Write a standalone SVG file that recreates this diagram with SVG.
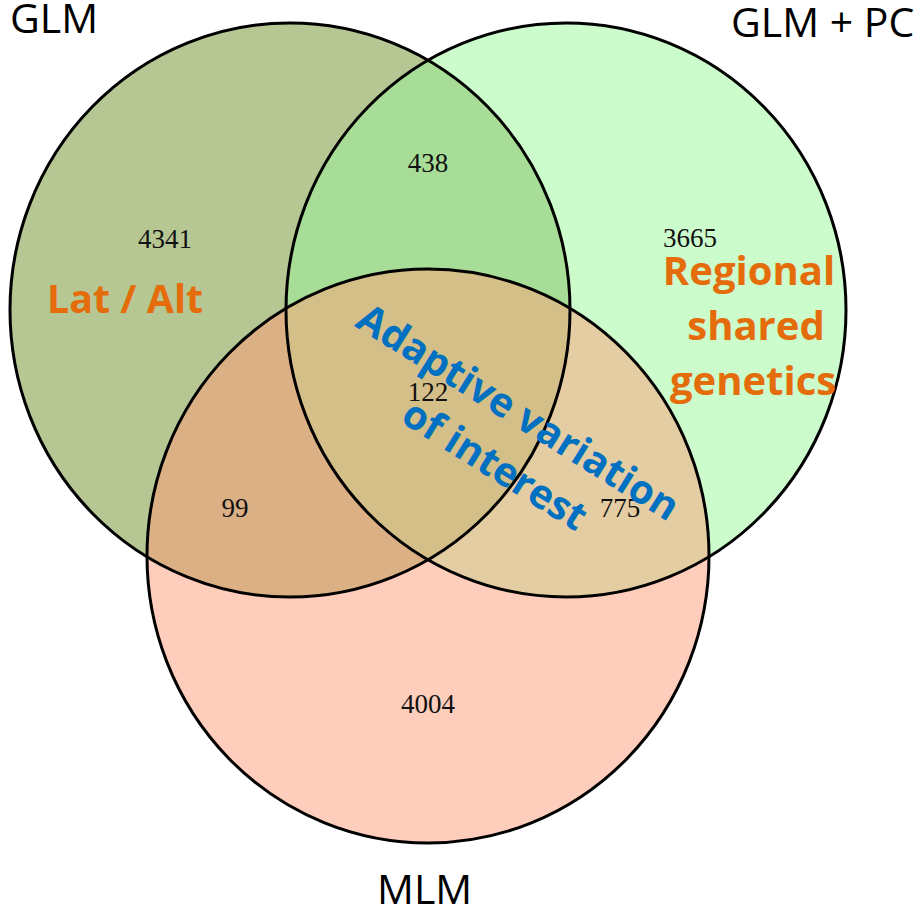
<svg xmlns="http://www.w3.org/2000/svg" width="922" height="907" viewBox="0 0 922 907">
<style>
.title{font-family:"Open Sans","Liberation Sans",sans-serif;font-size:41px;fill:#000}
.num{font-family:"Liberation Serif","Times New Roman",serif;font-size:27px;fill:#111;text-anchor:middle}
.note{font-family:"Open Sans","Liberation Sans",sans-serif;font-weight:bold;font-size:40px;fill:#E46C0A}
.blue{font-family:"Open Sans","Liberation Sans",sans-serif;font-weight:bold;font-size:40px;fill:#0070C0;text-anchor:middle}
.edge{fill:none;stroke:#000;stroke-width:3}
</style>
<defs>
<clipPath id="cGLM"><ellipse cx="290" cy="310" rx="280" ry="287"/></clipPath>
<clipPath id="cPC"><ellipse cx="566" cy="310" rx="280" ry="287"/></clipPath>
</defs>
<rect width="922" height="907" fill="#fff"/>
<g id="regions">
<ellipse cx="290" cy="310" rx="280" ry="287" fill="#b6c794"/>
<ellipse cx="566" cy="310" rx="280" ry="287" fill="#ccfbcc"/>
<ellipse cx="428" cy="556" rx="281" ry="287" fill="#fecdbb"/>
<ellipse cx="566" cy="310" rx="280" ry="287" fill="#a7dd97" clip-path="url(#cGLM)"/>
<ellipse cx="428" cy="556" rx="281" ry="287" fill="#dbb085" clip-path="url(#cGLM)"/>
<ellipse cx="428" cy="556" rx="281" ry="287" fill="#e5cda3" clip-path="url(#cPC)"/>
<g clip-path="url(#cGLM)"><ellipse cx="428" cy="556" rx="281" ry="287" fill="#d4bf88" clip-path="url(#cPC)"/></g>
</g>
<g id="set-glm">
<ellipse class="edge" cx="290" cy="310" rx="280" ry="287"/>
<text class="title" x="10" y="33">GLM</text>
<text class="num" x="165" y="248">4341</text>
<text class="note" x="47" y="313" textLength="156" lengthAdjust="spacingAndGlyphs">Lat / Alt</text>
</g>
<g id="set-glm-pc">
<ellipse class="edge" cx="566" cy="310" rx="280" ry="287"/>
<text class="title" x="731" y="37">GLM + PC</text>
<text class="num" x="690" y="247">3665</text>
<text class="note" text-anchor="middle" x="749" y="285">Regional</text>
<text class="note" text-anchor="middle" x="756" y="340">shared</text>
<text class="note" text-anchor="middle" x="753" y="395">genetics</text>
</g>
<g id="set-mlm">
<ellipse class="edge" cx="428" cy="556" rx="281" ry="287"/>
<text class="title" x="377" y="904">MLM</text>
<text class="num" x="428" y="713">4004</text>
</g>
<g id="overlaps">
<text class="num" x="428" y="172">438</text>
<text class="num" x="235" y="517">99</text>
<text class="num" x="620" y="517">775</text>
<text class="num" x="428" y="401">122</text>
</g>
<g id="focus" transform="translate(507,438) rotate(32)">
<text class="blue" x="-4" y="-14">Adaptive variation</text>
<text class="blue" x="4" y="43">of interest</text>
</g>
<g id="connectors"/>
</svg>
